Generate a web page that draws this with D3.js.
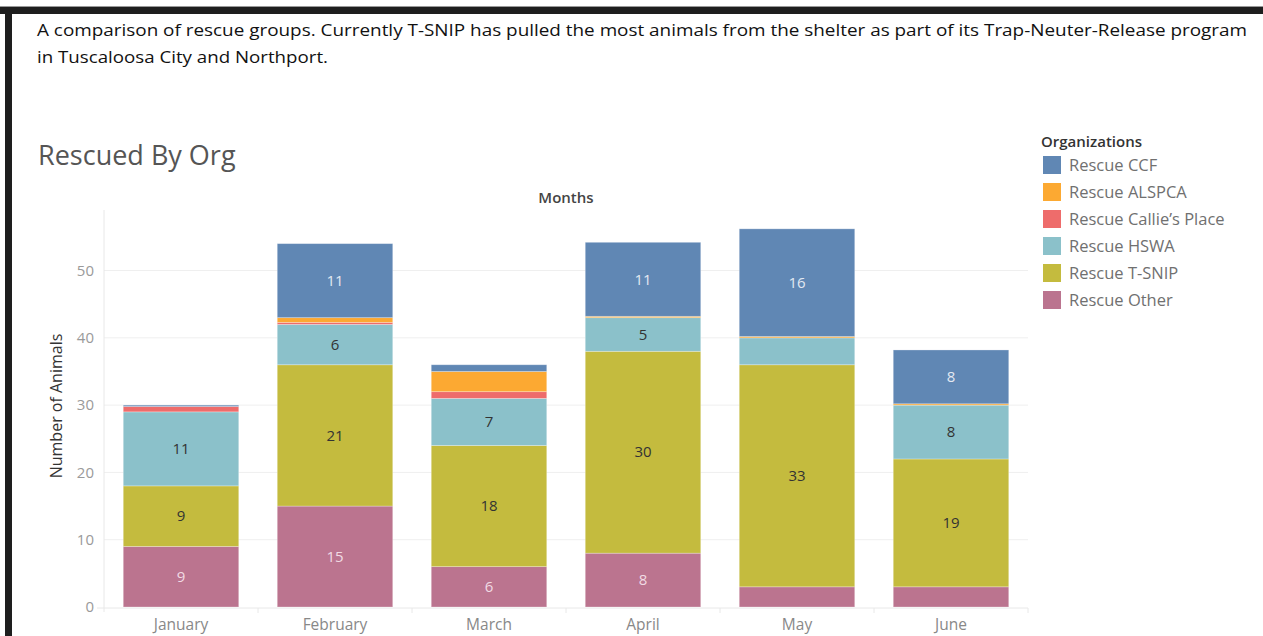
<!DOCTYPE html>
<html><head><meta charset="utf-8">
<script src="https://cdn.jsdelivr.net/npm/d3@7"></script>
<style>body{margin:0;background:#fff;}svg{display:block;}</style>
</head><body>
<svg id="c" width="1263" height="636"></svg>
<script>
const months = ["January","February","March","April","May","June"];
const orgs = ["Rescue Other","Rescue T-SNIP","Rescue HSWA","Rescue Callie's Place","Rescue ALSPCA","Rescue CCF"];
const legendOrder = ["Rescue CCF","Rescue ALSPCA","Rescue Callie\u2019s Place","Rescue HSWA","Rescue T-SNIP","Rescue Other"];
const other  = [9, 15, 6, 8, 3, 3];
const tsnip  = [9, 21, 18, 30, 33, 19];
const hswa   = [11, 6, 7, 5, 4, 8];
const callie = [0.8, 0.3, 1, 0, 0, 0];
const alspca = [0, 0.7, 3, 0.2, 0.2, 0.2];
const ccf    = [0.2, 11, 1, 11, 16, 8];
const yTicks = [0, 10, 20, 30, 40, 50];
const colors = ["#bb748f","#c4bb3e","#8bc1ca","#ee6c6b","#fca932","#6087b4"];
const labelColors = ["#f1dbe4","#333","#333","#fff","#fff","#e3e9f2"];

const series = [other, tsnip, hswa, callie, alspca, ccf];
const rows = months.map((m,i)=>{const r={month:m}; orgs.forEach((o,k)=>r[o]=series[k][i]); return r;});
const stacked = d3.stack().keys(orgs)(rows);

const svg = d3.select("#c");
// frame
svg.append("rect").attr("x",0).attr("y",6).attr("width",1263).attr("height",1.5).attr("fill","#999");
svg.append("rect").attr("x",0).attr("y",7).attr("width",1263).attr("height",7).attr("fill","#1e1e1e");
svg.append("rect").attr("x",5).attr("y",7).attr("width",7).attr("height",629).attr("fill","#1e1e1e");

svg.append("text").attr("x",37).attr("y",36).attr("font-family","'Open Sans',sans-serif").attr("font-size",17)
  .attr("fill","#111").attr("textLength",1210).attr("lengthAdjust","spacingAndGlyphs")
  .text("A comparison of rescue groups.  Currently T-SNIP has pulled the most animals from the shelter as part of its Trap-Neuter-Release program");
svg.append("text").attr("x",37).attr("y",63).attr("font-family","'Open Sans',sans-serif").attr("font-size",17)
  .attr("fill","#111").attr("textLength",291).attr("lengthAdjust","spacingAndGlyphs")
  .text("in Tuscaloosa City and Northport.");

const F = "'Open Sans',sans-serif";
svg.append("text").attr("x",38).attr("y",165).attr("font-family",F).attr("font-size",27).attr("fill","#555").text("Rescued By Org");
svg.append("text").attr("x",566).attr("y",203).attr("text-anchor","middle").attr("font-family",F).attr("font-size",15).attr("font-weight",600).attr("fill","#444").text("Months");

const x = d3.scaleBand().domain(months).range([104,1028]).paddingInner(0.25).paddingOuter(0.125);
const y = d3.scaleLinear().domain([0,59]).range([607,210]);

// gridlines
const g = svg.append("g");
g.selectAll("line.grid").data(yTicks.filter(t=>t>0)).join("line")
  .attr("x1",104).attr("x2",1028).attr("y1",d=>y(d)).attr("y2",d=>y(d)).attr("stroke","#efefef").attr("stroke-width",1);
g.append("line").attr("x1",104).attr("x2",104).attr("y1",210).attr("y2",612).attr("stroke","#e8e8e8");
g.append("line").attr("x1",97).attr("x2",1028).attr("y1",y(0)+1).attr("y2",y(0)+1).attr("stroke","#e8e8e8");
// band separators
g.selectAll("line.sep").data(months.slice(1)).join("line")
  .attr("x1",d=>x(d)-x.step()*x.paddingInner()/2).attr("x2",d=>x(d)-x.step()*x.paddingInner()/2)
  .attr("y1",y(0)+1).attr("y2",y(0)+6).attr("stroke","#e8e8e8");
g.append("line").attr("x1",1028).attr("x2",1028).attr("y1",y(0)+1).attr("y2",y(0)+6).attr("stroke","#e8e8e8");

// y axis
const yAxis = d3.axisLeft(y).tickValues(yTicks).tickSize(0).tickPadding(10);
const ya = svg.append("g").attr("transform","translate(104,0)").call(yAxis);
ya.select(".domain").remove();
ya.selectAll("text").attr("font-family",F).attr("font-size",15).attr("fill","#9a9a9a");
svg.append("text").attr("transform","translate(62,406) rotate(-90)").attr("text-anchor","middle")
  .attr("font-family",F).attr("font-size",16).attr("fill","#333").text("Number of Animals");

// x axis
const xAxis = d3.axisBottom(x).tickSize(0).tickPadding(0);
const xa = svg.append("g").attr("transform",`translate(0,${y(0)})`).call(xAxis);
xa.select(".domain").remove();
xa.selectAll("text").attr("font-family",F).attr("font-size",15.5).attr("fill","#888").attr("y",23).attr("dy","0");

// bars
const layers = svg.append("g").selectAll("g").data(stacked).join("g").attr("fill",(d,i)=>colors[i]);
layers.selectAll("rect").data(d=>d).join("rect")
  .attr("x",d=>x(d.data.month)).attr("width",x.bandwidth())
  .attr("y",d=>y(d[1])).attr("height",d=>Math.max(0,y(d[0])-y(d[1])))
  .attr("stroke","#ffffff").attr("stroke-opacity",0.35).attr("stroke-width",0.8);

// labels
const lab = svg.append("g");
stacked.forEach((layer,i)=>{
  lab.selectAll(null).data(layer.filter(d=>d[1]-d[0]>=5)).join("text")
    .attr("x",d=>x(d.data.month)+x.bandwidth()/2).attr("y",d=>y((d[0]+d[1])/2))
    .attr("dy","0.35em").attr("text-anchor","middle").attr("font-family",F).attr("font-size",15)
    .attr("fill",labelColors[i]).text(d=>Math.round(d[1]-d[0]));
});

// legend
svg.append("text").attr("x",1041).attr("y",147).attr("font-family",F).attr("font-size",15).attr("font-weight",600).attr("fill","#333").text("Organizations");
const legColor = {"Rescue CCF":colors[5],"Rescue ALSPCA":colors[4],"Rescue Callie\u2019s Place":colors[3],"Rescue HSWA":colors[2],"Rescue T-SNIP":colors[1],"Rescue Other":colors[0]};
const lg = svg.append("g").selectAll("g").data(legendOrder).join("g").attr("transform",(d,i)=>`translate(1043,${156+i*27})`);
lg.append("rect").attr("width",18).attr("height",18).attr("fill",d=>legColor[d]);
lg.append("text").attr("x",26).attr("y",9).attr("dy","0.35em").attr("font-family",F).attr("font-size",16.5).attr("fill","#707070").text(d=>d);
</script>
</body></html>
